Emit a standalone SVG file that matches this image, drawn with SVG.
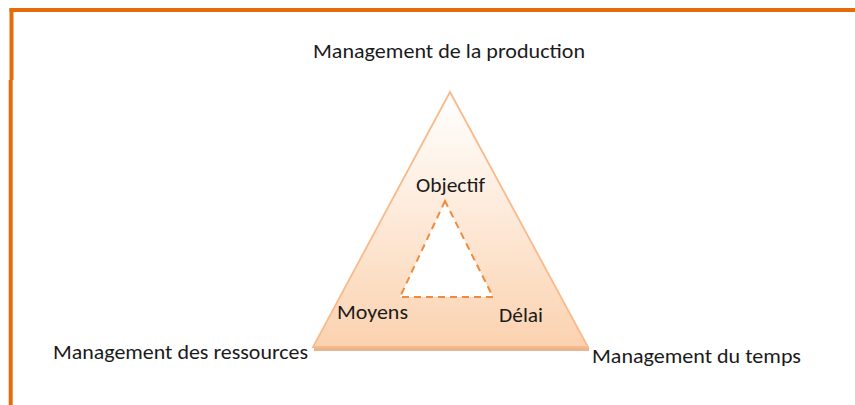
<svg xmlns="http://www.w3.org/2000/svg" width="855" height="405" viewBox="0 0 855 405">
<style>
  .lbl { font-family: Carlito, "Liberation Sans", Arial, sans-serif; font-size: 20px; fill: #1b1b1b; }
  .frame { stroke: #E46C0A; stroke-width: 4; fill: none; }
</style>
<defs>
  <linearGradient id="g" x1="0" y1="0" x2="0" y2="1">
    <stop offset="0" stop-color="#FFFFFF"/>
    <stop offset="0.35" stop-color="#FEF0E4"/>
    <stop offset="1" stop-color="#FBD2B0"/>
  </linearGradient>
</defs>
<rect width="855" height="405" fill="#FFFFFF"/>
<g id="frame">
  <line class="frame" x1="9.5" y1="10" x2="855" y2="10"/>
  <line class="frame" x1="11.5" y1="8" x2="11.5" y2="80"/>
  <line class="frame" x1="10.7" y1="80" x2="10.7" y2="405"/>
</g>
<g id="outer-triangle">
  <line x1="314" y1="349.5" x2="589" y2="349.5" stroke="#E9B48E" stroke-width="3"/>
  <polygon points="450,92 313,347 588,347" fill="url(#g)" stroke="#F8BA8A" stroke-width="1.8" stroke-linejoin="miter"/>
</g>
<g id="inner-triangle">
  <polygon points="445,201 400,297 493,297" fill="#FFFFFF" stroke="#F08A3C" stroke-width="2" stroke-dasharray="7,5"/>
</g>
<g id="labels">
  <text class="lbl" x="313" y="58" textLength="272" lengthAdjust="spacingAndGlyphs">Management de la production</text>
  <text class="lbl" x="416" y="192" textLength="69" lengthAdjust="spacingAndGlyphs">Objectif</text>
  <text class="lbl" x="337" y="319" textLength="71" lengthAdjust="spacingAndGlyphs">Moyens</text>
  <text class="lbl" x="499" y="322" textLength="44" lengthAdjust="spacingAndGlyphs">Délai</text>
  <text class="lbl" x="53" y="359" textLength="255" lengthAdjust="spacingAndGlyphs">Management des ressources</text>
  <text class="lbl" x="592" y="363" textLength="209" lengthAdjust="spacingAndGlyphs">Management du temps</text>
</g>
</svg>
